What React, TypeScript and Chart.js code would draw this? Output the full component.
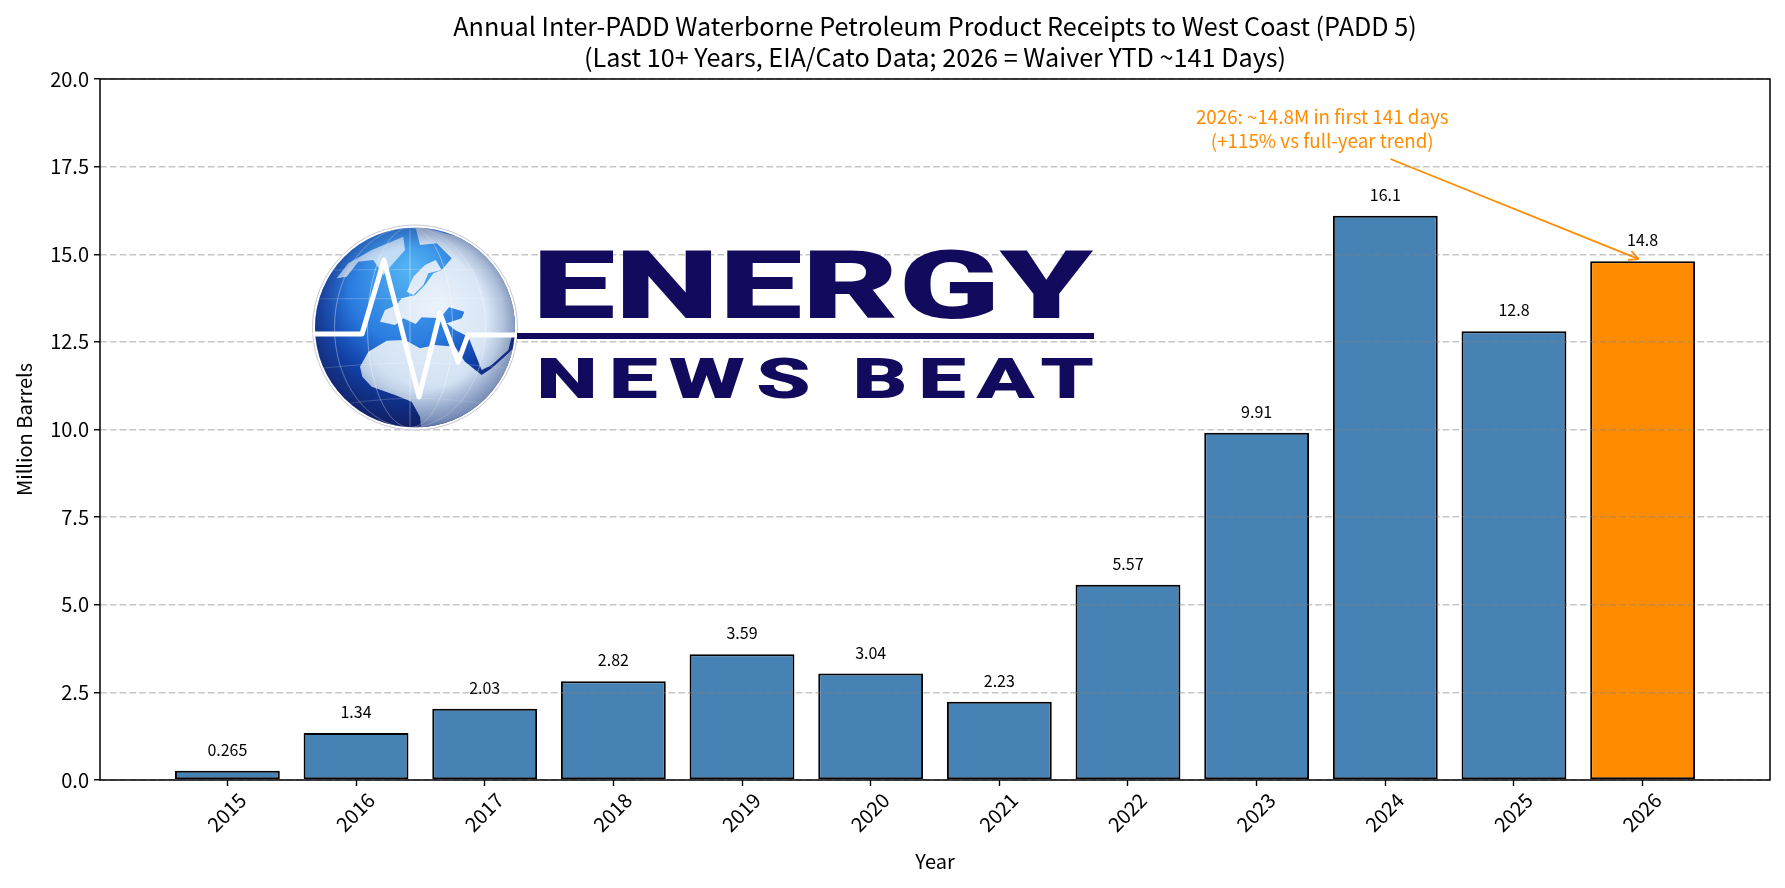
import React, { useEffect, useRef } from "react";
import { Chart, registerables } from "chart.js";

Chart.register(...registerables);

const years = [2015, 2016, 2017, 2018, 2019, 2020, 2021, 2022, 2023, 2024, 2025, 2026];
const receipts = [0.265, 1.34, 2.03, 2.82, 3.59, 3.04, 2.23, 5.57, 9.91, 16.1, 12.8, 14.8];
const barColors = ["#4682b4", "#4682b4", "#4682b4", "#4682b4", "#4682b4", "#4682b4", "#4682b4", "#4682b4", "#4682b4", "#4682b4", "#4682b4", "#ff8c00"];
const titleLines = [
  "Annual Inter-PADD Waterborne Petroleum Product Receipts to West Coast (PADD 5)",
  "(Last 10+ Years, EIA/Cato Data; 2026 = Waiver YTD ~141 Days)",
];
const noteLines = ["2026: ~14.8M in first 141 days", "(+115% vs full-year trend)"];
const noteAnchor = { x: 2023.51, y: 18.0 };
const arrowTail = { x: 2024.04, y: 17.72 };
const arrowTip = { x: 2025.97, y: 14.86 };

const FONT = '"Noto Sans CJK JP", "Noto Sans", sans-serif';
const NAVY = "#120a5c";

function fitText(ctx: CanvasRenderingContext2D, text: string, x0: number, x1: number, baseline: number, capH: number, spacing = 0) {
  ctx.save();
  const family = 'Roboto, "Liberation Sans", sans-serif';
  ctx.font = `900 100px ${family}`;
  const cap = ctx.measureText("E").actualBoundingBoxAscent;
  const size = (100 * capH) / cap;
  ctx.font = `900 ${size}px ${family}`;
  (ctx as any).letterSpacing = `${spacing}px`;
  ctx.textBaseline = "alphabetic";
  ctx.textAlign = "left";
  const m = ctx.measureText(text);
  const left = -m.actualBoundingBoxLeft;
  const right = m.actualBoundingBoxRight;
  const sx = (x1 - x0) / (right - left);
  ctx.translate(x0 - left * sx, baseline);
  ctx.scale(sx, 1);
  ctx.fillStyle = NAVY;
  ctx.fillText(text, 0, 0);
  ctx.restore();
}

function drawGlobe(ctx: CanvasRenderingContext2D) {
  const cx = 415;
  const cy = 327.5;
  const r = 100;
  const gx = (x: number) => 305 + x / 3;
  const gy = (y: number) => 220 + y / 3;
  const poly = (pts: number[][]) => {
    ctx.beginPath();
    pts.forEach(([x, y], i) => (i ? ctx.lineTo(gx(x), gy(y)) : ctx.moveTo(gx(x), gy(y))));
    ctx.closePath();
    ctx.fill();
  };
  ctx.save();
  ctx.beginPath();
  ctx.arc(cx, cy, r + 2.5, 0, Math.PI * 2);
  ctx.fillStyle = "#ffffff";
  ctx.fill();
  ctx.strokeStyle = "#c9c5d2";
  ctx.lineWidth = 1;
  ctx.stroke();

  ctx.beginPath();
  ctx.arc(cx, cy, r, 0, Math.PI * 2);
  ctx.clip();
  // ocean
  const sea = ctx.createRadialGradient(cx - 5, cy - 60, 5, cx - 5, cy - 25, r * 1.3);
  sea.addColorStop(0, "#52b2f3");
  sea.addColorStop(0.45, "#2a7bdf");
  sea.addColorStop(0.7, "#0f3fa8");
  sea.addColorStop(1, "#020a52");
  ctx.fillStyle = sea;
  ctx.fillRect(cx - r, cy - r, 2 * r, 2 * r);
  (ctx as any).filter = "blur(0.7px)";
  // land
  const land = ctx.createRadialGradient(cx + 22, cy - 20, 5, cx + 12, cy - 8, r * 1.27);
  land.addColorStop(0, "#e9f1fb");
  land.addColorStop(0.55, "#d3e2f3");
  land.addColorStop(0.8, "#9db2d2");
  land.addColorStop(0.93, "#3a5290");
  land.addColorStop(1, "#0c1c68");
  ctx.fillStyle = land;
  // Eurasia and the pale cap to the north-east
  poly([[330, 15], [420, 40], [500, 60], [640, 180], [650, 350], [490, 350], [450, 330], [425, 310], [470, 295], [478, 275], [432, 262], [405, 295], [350, 292], [332, 312], [295, 295], [270, 315], [225, 305], [240, 270], [275, 255], [290, 235], [330, 225], [360, 195], [385, 160], [410, 150], [440, 115], [395, 70], [345, 75]]);
  // Scandinavia
  poly([[305, 215], [325, 170], [360, 135], [392, 120], [410, 150], [370, 160], [355, 195], [325, 225]]);
  // Africa and Arabia
  poly([[165, 440], [190, 395], [245, 362], [300, 360], [345, 385], [390, 375], [450, 380], [480, 425], [530, 465], [560, 445], [610, 400], [640, 370], [650, 640], [350, 640], [345, 590], [320, 545], [270, 525], [200, 500], [172, 470]]);
  // Arabian peninsula
  poly([[490, 350], [620, 350], [610, 390], [560, 435], [530, 450]]);
  // Greenland
  ctx.fillStyle = "#c3dcf6";
  poly([[95, 175], [130, 130], [200, 90], [295, 50], [300, 90], [265, 130], [235, 165], [205, 120], [160, 125], [125, 170]]);
  (ctx as any).filter = "none";
  // graticule
  ctx.strokeStyle = "rgba(255,255,255,0.28)";
  ctx.lineWidth = 0.8;
  for (const k of [-0.75, -0.42, 0, 0.42, 0.75]) {
    ctx.beginPath();
    ctx.ellipse(cx - 5, cy, Math.abs(k) * r + 0.5, r, 0, 0, Math.PI * 2);
    ctx.stroke();
  }
  for (const k of [-0.7, -0.35, 0.35, 0.7]) {
    ctx.beginPath();
    ctx.moveTo(cx - r, cy + k * r + 18 * Math.abs(k));
    ctx.quadraticCurveTo(cx, cy + k * r - 16 * k, cx + r, cy + k * r + 18 * Math.abs(k));
    ctx.stroke();
  }
  // limb shading
  const limb = ctx.createRadialGradient(cx, cy - 8, r * 0.72, cx, cy, r);
  limb.addColorStop(0, "rgba(60,90,150,0)");
  limb.addColorStop(1, "rgba(40,60,120,0.35)");
  ctx.fillStyle = limb;
  ctx.fillRect(cx - r, cy - r, 2 * r, 2 * r);
  ctx.restore();

  // heartbeat
  ctx.save();
  ctx.strokeStyle = "#ffffff";
  ctx.lineWidth = 5;
  ctx.lineJoin = "round";
  ctx.lineCap = "round";
  ctx.beginPath();
  [[315, 334], [362, 334], [384, 260], [419, 397], [440, 313], [458, 362], [468, 335], [515, 335]].forEach(([x, y], i) =>
    i ? ctx.lineTo(x, y) : ctx.moveTo(x, y)
  );
  ctx.stroke();
  ctx.restore();
}

const logoPlugin = {
  id: "logo",
  afterDraw(chart: any) {
    const ctx: CanvasRenderingContext2D = chart.ctx;
    drawGlobe(ctx);
    fitText(ctx, "ENERGY", 540, 1094, 318, 68);
    ctx.save();
    ctx.fillStyle = NAVY;
    ctx.fillRect(517, 333, 577, 6);
    ctx.restore();
    fitText(ctx, "NEWS", 541, 808, 398, 40, 7);
    fitText(ctx, "BEAT", 857, 1094, 398, 40, 7);
  },
};

const overlayPlugin = {
  id: "overlay",
  afterDatasetsDraw(chart: any) {
    const ctx: CanvasRenderingContext2D = chart.ctx;
    const { x: xs, y: ys } = chart.scales;
    const meta = chart.getDatasetMeta(0);
    ctx.save();
    ctx.fillStyle = "#000";
    ctx.font = `16px ${FONT}`;
    ctx.textAlign = "center";
    ctx.textBaseline = "middle";
    meta.data.forEach((bar: any, i: number) => {
      ctx.fillText(String(receipts[i]), bar.x, bar.y - 21);
    });
    ctx.fillStyle = "#ff8c00";
    ctx.font = `18.8px ${FONT}`;
    const nx = xs.getPixelForValue(noteAnchor.x);
    const ny = ys.getPixelForValue(noteAnchor.y);
    ctx.fillText(noteLines[0], nx, ny - 32);
    ctx.fillText(noteLines[1], nx, ny - 8);
    const ax = xs.getPixelForValue(arrowTail.x);
    const ay = ys.getPixelForValue(arrowTail.y);
    const bx = xs.getPixelForValue(arrowTip.x);
    const by = ys.getPixelForValue(arrowTip.y);
    const ang = Math.atan2(by - ay, bx - ax);
    ctx.strokeStyle = "#ff8c00";
    ctx.lineWidth = 1.7;
    ctx.beginPath();
    ctx.moveTo(ax, ay);
    ctx.lineTo(bx, by);
    for (const d of [-0.45, 0.45]) {
      ctx.moveTo(bx, by);
      ctx.lineTo(bx - 11 * Math.cos(ang + d), by - 11 * Math.sin(ang + d));
    }
    ctx.stroke();
    ctx.restore();
  },
  afterDraw(chart: any) {
    const { left, top, width, height } = chart.chartArea;
    const ctx: CanvasRenderingContext2D = chart.ctx;
    ctx.save();
    ctx.strokeStyle = "#000";
    ctx.lineWidth = 1.5;
    ctx.strokeRect(left, top, width, height);
    ctx.restore();
  },
};

export default function App() {
  const ref = useRef<HTMLCanvasElement>(null);
  useEffect(() => {
    const chart = new Chart(ref.current!, {
      type: "bar",
      data: {
        datasets: [
          {
            data: years.map((y, i) => ({ x: y, y: receipts[i] })),
            backgroundColor: barColors,
            borderColor: "#000",
            borderWidth: 2,
            borderSkipped: false,
            barPercentage: 0.815,
            categoryPercentage: 1,
          },
        ],
      } as any,
      options: {
        responsive: false,
        animation: false,
        devicePixelRatio: 1,
        layout: { padding: { top: 1, left: 0, right: 15, bottom: 0 } },
        plugins: {
          legend: { display: false },
          tooltip: { enabled: false },
          title: {
            display: true,
            fullSize: false,
            text: titleLines,
            color: "#000",
            font: { family: FONT, size: 25.2, weight: "normal", lineHeight: 31 / 25.2 },
            padding: { top: 10, bottom: 6 },
          },
        },
        scales: {
          x: {
            type: "linear",
            offset: false,
            min: 2014.01,
            max: 2026.99,
            afterFit: (s: any) => {
              s.height = 108;
            },
            afterBuildTicks: (s: any) => {
              s.ticks = years.map((v) => ({ value: v }));
            },
            grid: { offset: false, drawOnChartArea: false, drawTicks: true, tickLength: 6, tickColor: "#000", tickWidth: 1.4 },
            border: { display: false },
            ticks: {
              autoSkip: false,
              maxRotation: 45,
              minRotation: 45,
              labelOffset: 15,
              padding: 2,
              color: "#000",
              font: { family: FONT, size: 20 },
              callback: (v: any) => String(v),
            },
            title: { display: true, text: "Year", color: "#000", font: { family: FONT, size: 20 }, padding: { top: 0, bottom: 15 } },
          },
          y: {
            min: 0,
            max: 20,
            afterFit: (s: any) => {
              s.width = 100;
            },
            grid: {
              z: 1,
              color: "rgba(128,128,128,0.45)",
              lineWidth: 1.5,
              tickBorderDash: [],
              tickColor: "#000",
              tickWidth: 1.4,
              tickLength: 6,
            },
            border: { display: false, dash: [6.8, 3] },
            ticks: {
              stepSize: 2.5,
              padding: 5,
              color: "#000",
              font: { family: FONT, size: 20 },
              callback: (v: any) => Number(v).toFixed(1),
            },
            title: { display: true, text: "Million Barrels", color: "#000", font: { family: FONT, size: 20 }, padding: { top: 12, bottom: 4 } },
          },
        },
      } as any,
      plugins: [overlayPlugin, logoPlugin],
    });
    return () => chart.destroy();
  }, []);
  return (
    <div style={{ position: "absolute", left: 0, top: 0, width: 1785, height: 888, background: "#fff" }}>
      <canvas ref={ref} width={1785} height={888} style={{ display: "block" }} />
    </div>
  );
}
